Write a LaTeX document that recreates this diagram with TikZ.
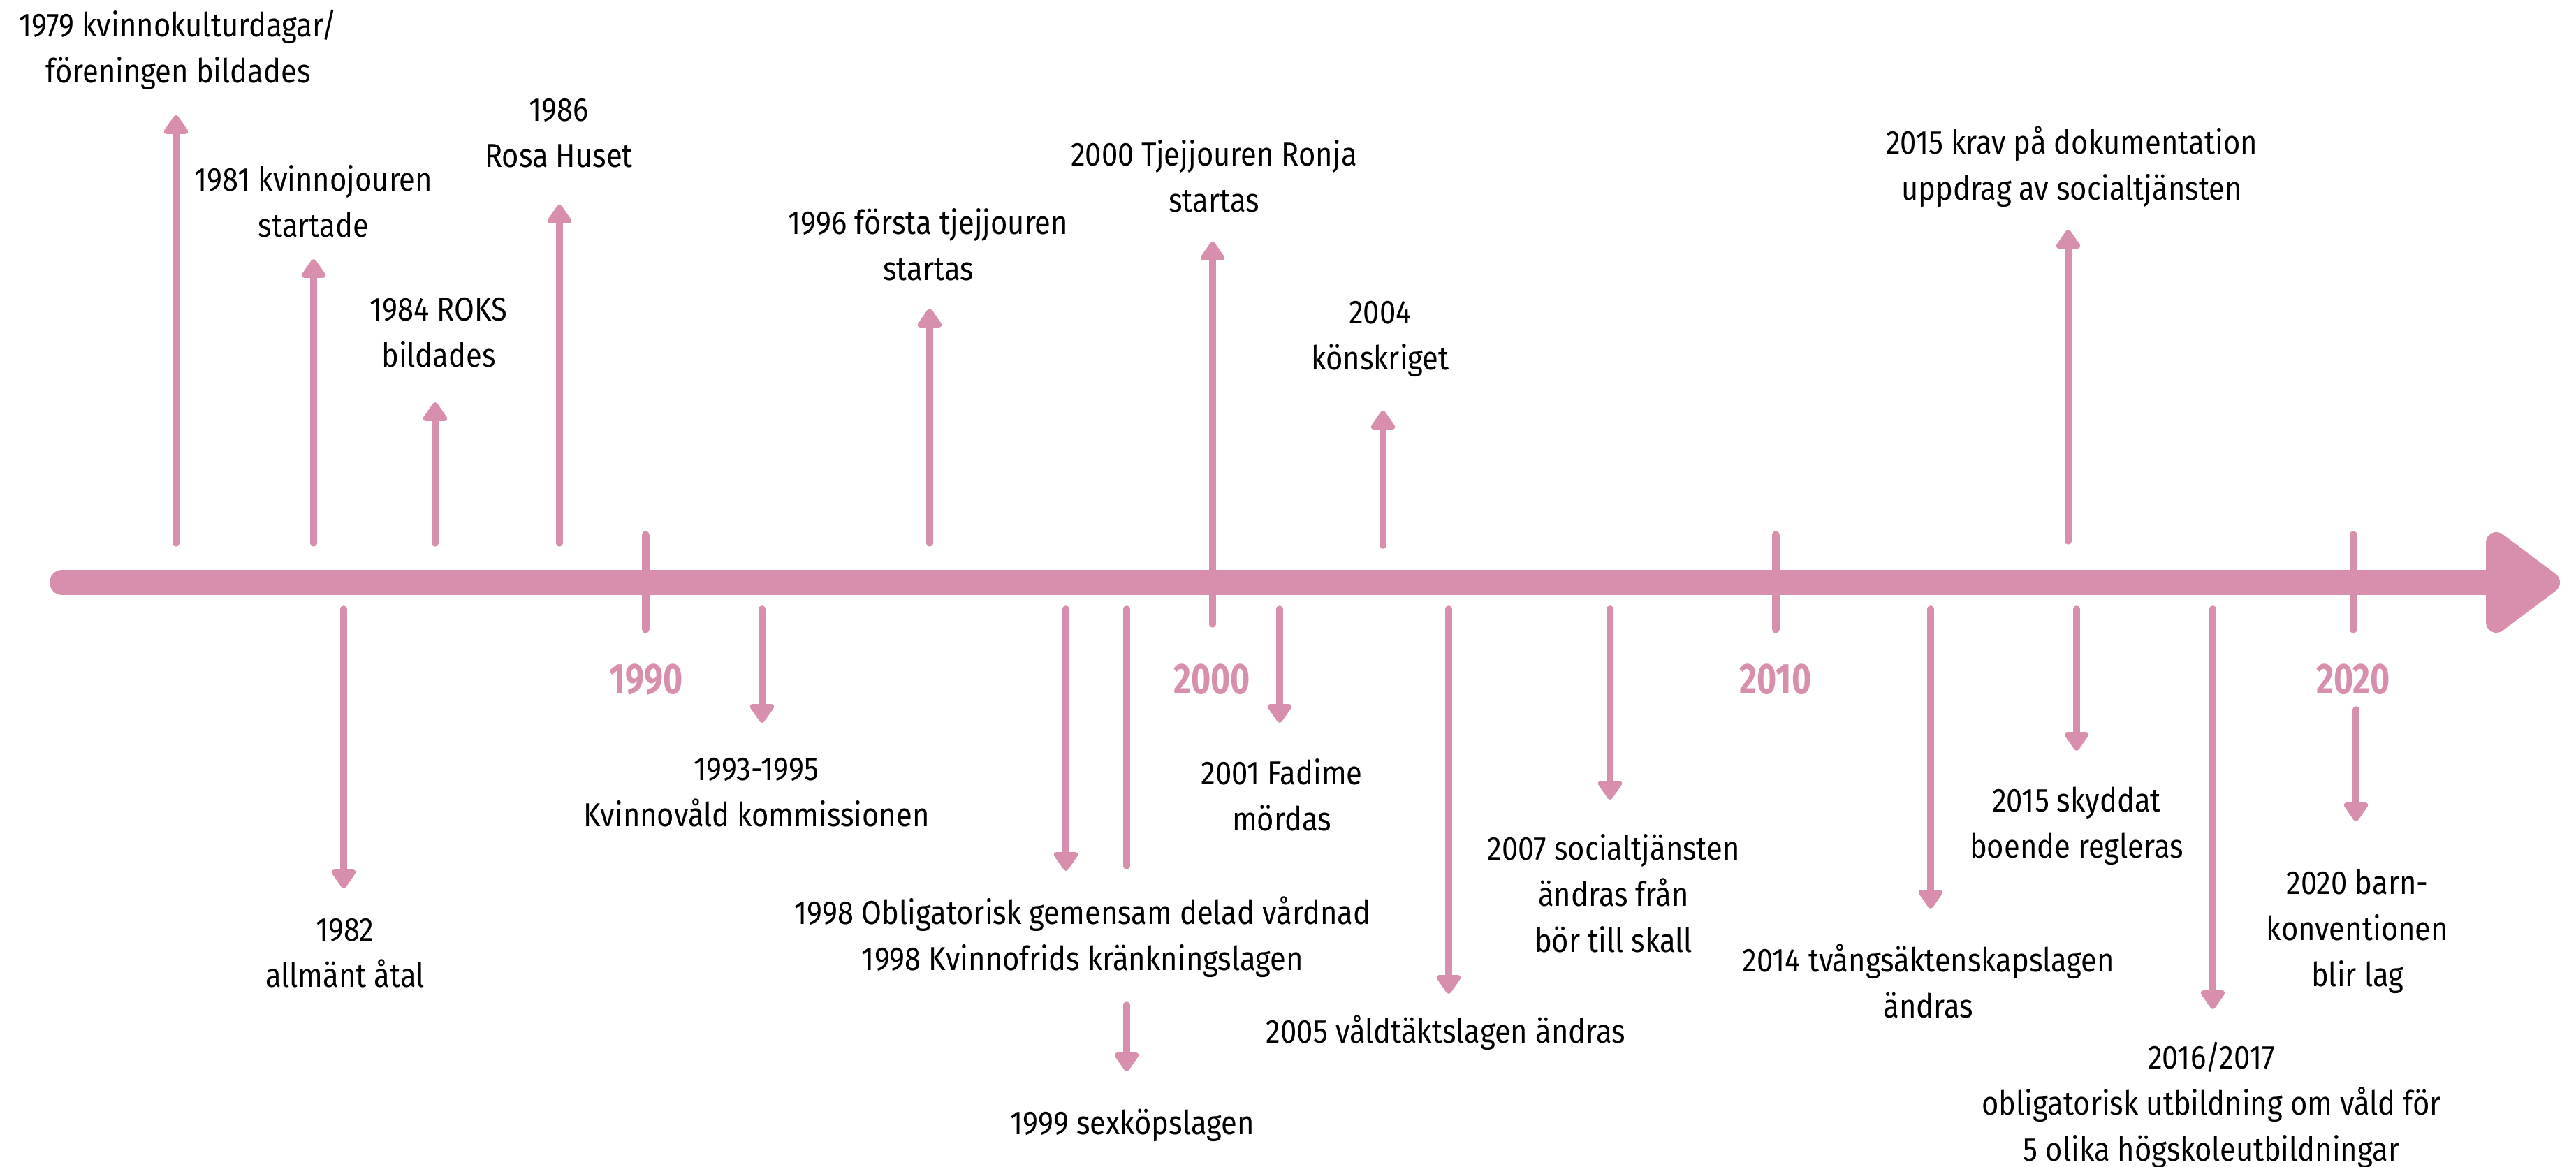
\documentclass[tikz,border=0pt]{standalone}
\usepackage{fontspec}
\setmainfont{Fira Sans}[FakeStretch=0.88]
\newfontfamily\yearfont{Fira Sans}[FakeStretch=0.78]
\usetikzlibrary{arrows.meta}
\definecolor{rosa}{HTML}{D88FAE}

\begin{document}
\begin{tikzpicture}[
    event/.style={align=center, font=\fontsize{13.5}{18.8}\selectfont, inner sep=0pt},
    decade/.style={text=rosa, font=\yearfont\bfseries\fontsize{17.6}{20}\selectfont, inner sep=0pt},
    axis/.style={draw=rosa, line width=0.36cm, line cap=round},
    tick/.style={draw=rosa, line width=0.11cm, line cap=round},
    stem/.style={draw=rosa, line width=0.095cm, line cap=round},
    arrow/.style={stem, -{Triangle[width=0.39cm, length=0.3cm, round]}}
]
\useasboundingbox (0,0) rectangle (36.88,16.71);

% Time axis
\coordinate (start) at (0.89,8.37);
\coordinate (end) at (35.74,8.37);
\draw[axis] (start) -- (end);
\fill[rosa, draw=rosa, line width=0.3cm, line join=round]
    (35.74,8.94) -- (36.50,8.37) -- (35.74,7.80) -- cycle;

% Decade ticks
\coordinate (t90a) at (9.24,9.05);  \coordinate (t90b) at (9.24,7.70);
\coordinate (t10a) at (25.42,9.05); \coordinate (t10b) at (25.42,7.70);
\coordinate (t20a) at (33.69,9.05); \coordinate (t20b) at (33.69,7.70);
\draw[tick] (t90a) -- (t90b);
\draw[tick] (t10a) -- (t10b);
\draw[tick] (t20a) -- (t20b);

% Decade labels
\node[decade] (y1990) at (9.25,6.98) {1990};
\node[decade] (y2000) at (17.35,6.98) {2000};
\node[decade] (y2010) at (25.42,6.98) {2010};
\node[decade] (y2020) at (33.69,6.98) {2020};

% Events above the axis
\node[event] (e1979) at (2.55,16.00) {1979 kvinnokulturdagar/\\föreningen bildades};
\node[event] (e1981) at (4.49,13.83) {1981 kvinnojouren\\startade};
\node[event] (e1984) at (6.28,11.95) {1984 ROKS\\bildades};
\node[event] (e1986) at (8.00,14.80) {1986\\Rosa Huset};
\node[event] (e1996) at (13.29,13.21) {1996 första tjejjouren\\startas};
\node[event] (e2000) at (17.38,14.19) {2000 Tjejjouren Ronja\\startas};
\node[event] (e2004) at (19.76,11.86) {2004\\könskriget};
\node[event] (e2015a) at (29.66,14.32) {2015 krav på dokumentation\\uppdrag av socialtjänsten};

% Events below the axis
\node[event] (e1982) at (4.94,3.06) {1982\\allmänt åtal};
\node[event] (e1993) at (10.83,5.36) {1993-1995\\Kvinnovåld kommissionen};
\node[event] (e1998) at (15.50,3.29) {1998 Obligatorisk gemensam delad vårdnad\\1998 Kvinnofrids kränkningslagen};
\node[event] (e1999) at (16.21,0.60) {1999 sexköpslagen};
\node[event] (e2001) at (18.35,5.33) {2001 Fadime\\mördas};
\node[event] (e2005) at (20.70,1.92) {2005 våldtäktslagen ändras};
\node[event] (e2007) at (23.10,3.92) {2007 socialtjänsten\\ändras från\\bör till skall};
\node[event] (e2014) at (27.61,2.66) {2014 tvångsäktenskapslagen\\ändras};
\node[event] (e2015b) at (29.73,4.88) {2015 skyddat\\boende regleras};
\node[event] (e2016) at (31.66,0.89) {2016/2017\\obligatorisk utbildning om våld för\\5 olika högskoleutbildningar};
\node[event] (e2020) at (33.75,3.37) {2020 barn-\\konventionen\\blir lag};

% Arrow ends, upwards
\coordinate (a1979) at (2.52,8.93);   \coordinate (b1979) at (2.52,15.06);
\coordinate (a1981) at (4.49,8.93);   \coordinate (b1981) at (4.49,13.00);
\coordinate (a1984) at (6.23,8.93);   \coordinate (b1984) at (6.23,10.95);
\coordinate (a1986) at (8.01,8.93);   \coordinate (b1986) at (8.01,13.78);
\coordinate (a1996) at (13.31,8.93);  \coordinate (b1996) at (13.31,12.29);
\coordinate (a2000) at (17.36,7.77);  \coordinate (b2000) at (17.36,13.25);
\coordinate (a2004) at (19.80,8.90);  \coordinate (b2004) at (19.80,10.83);
\coordinate (a2015a) at (29.61,8.96); \coordinate (b2015a) at (29.61,13.42);

% Arrow ends, downwards
\coordinate (a1982) at (4.92,7.99);   \coordinate (b1982) at (4.92,3.99);
\coordinate (a1993) at (10.91,7.99);  \coordinate (b1993) at (10.91,6.36);
\coordinate (a1998) at (15.26,7.99);  \coordinate (b1998) at (15.26,4.24);
\coordinate (a1998l) at (16.13,7.99); \coordinate (b1998l) at (16.13,4.31);
\coordinate (a1999) at (16.13,2.32);  \coordinate (b1999) at (16.13,1.37);
\coordinate (a2001) at (18.32,7.99);  \coordinate (b2001) at (18.32,6.36);
\coordinate (a2005) at (20.74,7.99);  \coordinate (b2005) at (20.74,2.48);
\coordinate (a2007) at (23.05,7.99);  \coordinate (b2007) at (23.05,5.26);
\coordinate (a2014) at (27.64,7.99);  \coordinate (b2014) at (27.64,3.70);
\coordinate (a2015b) at (29.73,7.99); \coordinate (b2015b) at (29.73,5.96);
\coordinate (a2016) at (31.68,7.99);  \coordinate (b2016) at (31.68,2.26);
\coordinate (a2020) at (33.73,6.55);  \coordinate (b2020) at (33.73,4.95);

% Arrows
\draw[arrow] (a1979) -- (b1979);
\draw[arrow] (a1981) -- (b1981);
\draw[arrow] (a1984) -- (b1984);
\draw[arrow] (a1986) -- (b1986);
\draw[arrow] (a1996) -- (b1996);
\draw[arrow] (a2000) -- (b2000);
\draw[arrow] (a2004) -- (b2004);
\draw[arrow] (a2015a) -- (b2015a);

\draw[arrow] (a1982) -- (b1982);
\draw[arrow] (a1993) -- (b1993);
\draw[arrow] (a1998) -- (b1998);
\draw[stem] (a1998l) -- (b1998l);
\draw[arrow] (a1999) -- (b1999);
\draw[arrow] (a2001) -- (b2001);
\draw[arrow] (a2005) -- (b2005);
\draw[arrow] (a2007) -- (b2007);
\draw[arrow] (a2014) -- (b2014);
\draw[arrow] (a2015b) -- (b2015b);
\draw[arrow] (a2016) -- (b2016);
\draw[arrow] (a2020) -- (b2020);

\end{tikzpicture}
\end{document}
